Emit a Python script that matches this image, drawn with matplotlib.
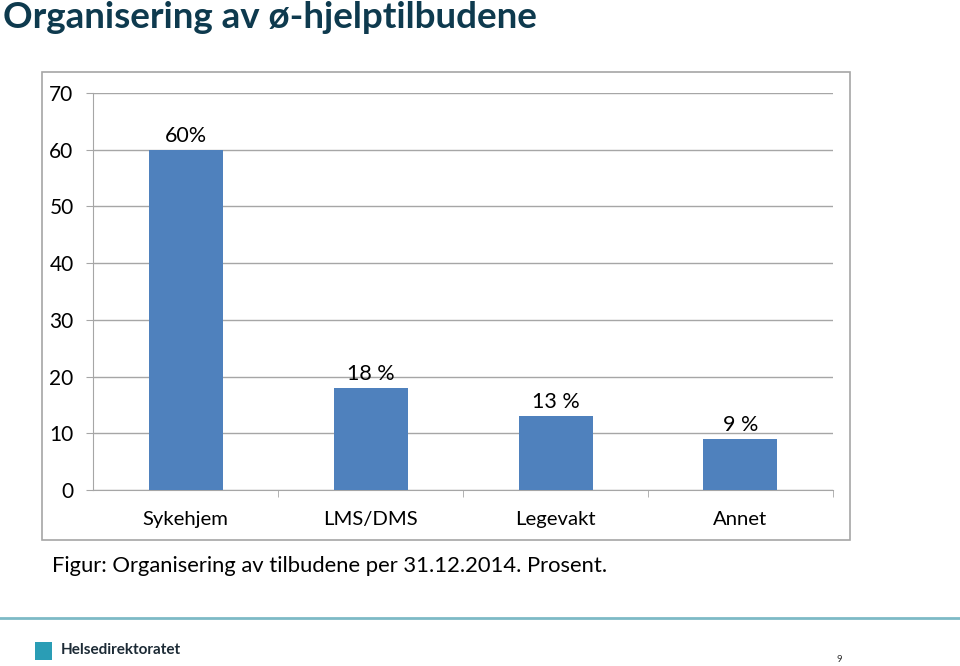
import matplotlib.pyplot as plt
from matplotlib.patches import Rectangle
from matplotlib.lines import Line2D
import numpy as np

categories = ['Sykehjem', 'LMS/DMS', 'Legevakt', 'Annet']
values = [60, 18, 13, 9]
value_labels = ['60%', '18 %', '13 %', '9 %']
yticks = [0, 10, 20, 30, 40, 50, 60, 70]

plt.rcParams['font.family'] = ['Lato', 'DejaVu Sans']

fig = plt.figure(figsize=(9.6, 6.66), dpi=100)

# title
fig.text(0.003, 1 - 17 / 666, 'Organisering av ø-hjelptilbudene', fontsize=26.5, fontweight='bold',
         color='#0E3A4E', va='center', ha='left')

# chart frame
fig.patches.append(Rectangle((0.04375, 0.1892), 0.8417, 0.7027, transform=fig.transFigure,
                             fill=False, edgecolor='#A6A6A6', linewidth=1.2))

ax = fig.add_axes([0.0969, 0.2643, 0.7708, 0.5961])
x = np.arange(len(categories))
ax.bar(x, values, width=0.4, color='#4F81BD', zorder=3)
for xi, v, lab in zip(x, values, value_labels):
    ax.annotate(lab, (xi, v), xytext=(0, 3), textcoords='offset points',
                ha='center', va='bottom', fontsize=15.5, color='black')

ax.set_xlim(-0.5, len(categories) - 0.5)
ax.set_ylim(0, 70)
ax.set_yticks(yticks)
ax.set_yticklabels([str(t) for t in yticks], fontsize=15)
ax.set_xticks(x)
ax.set_xticklabels(categories, fontsize=14.6)
ax.set_xticks(np.arange(0.5, len(categories) - 0.5 + 0.01, 1.0), minor=True)
ax.tick_params(axis='x', which='major', length=0, pad=15)
ax.tick_params(axis='x', which='minor', length=5, color='#A6A6A6', direction='out')
ax.tick_params(axis='y', length=5, color='#A6A6A6', pad=9)
ax.grid(axis='y', color='#A6A6A6', linewidth=1.0, zorder=0)
for s in ['top', 'right']:
    ax.spines[s].set_visible(False)
ax.spines['left'].set_color('#A6A6A6')
ax.spines['bottom'].set_color('#A6A6A6')

# caption
fig.text(0.054, 1 - 566 / 666, 'Figur: Organisering av tilbudene per 31.12.2014. Prosent.',
         fontsize=15.8, color='black', va='center', ha='left')

# footer line
ly = 1 - 618 / 666
fig.add_artist(Line2D([0, 1], [ly, ly], transform=fig.transFigure, color='#7DBAC6', linewidth=2))

# logo
fig.patches.append(Rectangle((0.036, 1 - 660 / 666), 0.018, 0.027, transform=fig.transFigure,
                             facecolor='#2A9DB5', edgecolor='none'))
fig.text(0.063, 1 - 650 / 666, 'Helsedirektoratet', fontsize=11, fontweight='bold',
         color='#1D2B36', va='center', ha='left')
fig.text(0.874, 1 - 660 / 666, '9', fontsize=7, color='#333333', va='center', ha='center')

fig.savefig('out.png', dpi=100)
